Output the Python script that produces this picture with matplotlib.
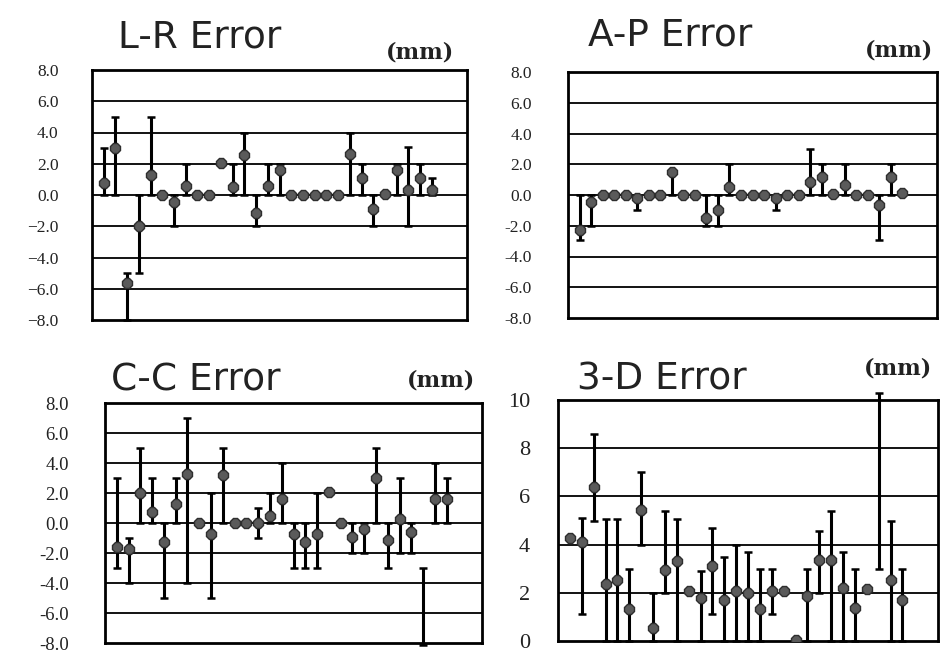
import numpy as np
import matplotlib.pyplot as plt

plt.rcParams["font.family"] = "DejaVu Sans"

N = np.nan
case_no = np.arange(1, 30)

# L-R error (mm): mean with min / max range
lr_mean = [0.8, 3.0, -5.65, -2.0, 1.3, 0.0, -0.43, 0.58, 0.0, 0.0, 2.05, 0.5, 2.56, -1.17, 0.55,
           1.6, 0.0, 0.0, 0.0, 0.0, 0.0, 2.6, 1.07, -0.92, 0.05, 1.6, 0.3, 1.1, 0.3]
lr_min = [0, 0, -8.0, -5.0, 0, N, -2.0, 0, N, N, N, 0, 0, -2.0, 0,
          0, N, N, N, N, N, 0, 0, -2.0, N, 0, -2.0, 0, 0]
lr_max = [3.0, 5.0, -5.0, 0, 5.0, N, 0, 2.0, N, N, N, 2.0, 4.0, 0, 2.0,
          2.0, N, N, N, N, N, 4.0, 2.0, 0, N, 2.0, 3.1, 2.0, 1.07]

# A-P error (mm)
ap_mean = [-2.26, -0.43, 0.0, 0.0, 0.0, -0.2, 0.0, 0.0, 1.5, 0.0, 0.0, -1.5, -1.0, 0.53, 0.0,
           0.0, 0.0, -0.2, 0.0, 0.0, 0.86, 1.18, 0.05, 0.65, 0.0, 0.0, -0.65, 1.14, 0.1]
ap_min = [-2.9, -2.0, N, N, N, -1.0, N, N, 0, N, N, -2.0, -2.0, 0, N,
          N, N, -1.0, N, N, 0, 0, N, 0, N, N, -2.9, 0, N]
ap_max = [0, 0, N, N, N, 0, N, N, 1.6, N, N, 0, 0, 2.0, N,
          N, N, 0, N, N, 3.0, 2.0, N, 2.0, N, N, 0, 2.0, N]

# C-C error (mm)
cc_mean = [-1.6, -1.7, 2.0, 0.75, -1.24, 1.3, 3.25, 0.0, -0.73, 3.2, 0.0, 0.0, 0.0, 0.5, 1.6,
           -0.73, -1.24, -0.73, 2.07, 0.0, -0.95, -0.4, 3.0, -1.1, 0.26, -0.6, N, 1.6, 1.6]
cc_min = [-3.0, -4.0, 0, 0, -5.0, 0, -4.0, N, -5.0, 0, N, N, -1.0, 0, 0,
          -3.0, -3.0, -3.0, N, N, -2.0, -2.0, 0, -3.0, -2.0, -2.0, -8.1, 0, 0]
cc_max = [3.0, -1.0, 5.0, 3.0, 0, 3.0, 7.0, N, 2.0, 5.0, N, N, 1.0, 2.0, 4.0,
          0, 0, 2.0, N, N, 0, 0, 5.0, 0, 3.0, 0, -3.0, 4.0, 3.0]

# 3-D error (mm)
td_mean = [4.28, 4.1, 6.4, 2.37, 2.55, 1.34, 5.42, 0.55, 2.94, 3.31, 2.07, 1.8, 3.1, 1.7, 2.07,
           2.0, 1.34, 2.07, 2.07, 0.04, 1.86, 3.38, 3.38, 2.2, 1.38, 2.17, N, 2.55, 1.72]
td_min = [N, 1.1, 5.0, 0, 0, 0, 4.0, 0, 2.0, 0, N, 0, 1.1, 0, 0,
          0, 0, 1.1, N, N, 0, 2.0, 0, 0, 0, N, 3.0, 0, 0]
td_max = [N, 5.1, 8.6, 5.05, 5.05, 3.0, 7.0, 2.0, 5.4, 5.05, N, 2.9, 4.7, 3.5, 4.0,
          3.7, 3.0, 3.0, N, N, 3.0, 4.55, 5.4, 3.7, 3.0, N, 10.3, 5.0, 3.0]

sym_ticks = [8, 6, 4, 2, 0, -2, -4, -6, -8]
td_ticks = [10, 8, 6, 4, 2, 0]

W, H = 940, 655
fig = plt.figure(figsize=(9.4, 6.55), dpi=100)


def box(x0, y0, x1, y1):
    return [x0 / W, 1 - y1 / H, (x1 - x0) / W, (y1 - y0) / H]


def draw_panel(rect, mean, lo, hi, ticks, labels, lsize, lpad, title, txy, uxy):
    ax = fig.add_axes(rect)
    ax.set_xlim(0, 32)
    ax.set_ylim(min(ticks), max(ticks))
    for t in ticks[1:-1]:
        ax.axhline(t, color="black", lw=1.3, zorder=1)
    ax.vlines(case_no, lo, hi, colors="black", lw=2.2, zorder=2, clip_on=False)
    for end in (lo, hi):
        ax.plot(case_no, end, ls="none", marker="_", ms=6, mew=1.8, color="black",
                zorder=2, clip_on=False)
    ax.plot(case_no, mean, ls="none", marker="8", ms=8.5, mfc="#5a5a5a", mec="#2e2e2e",
            mew=1.0, zorder=3)
    ax.set_xticks([])
    ax.set_yticks(ticks)
    ax.set_yticklabels(labels, fontsize=lsize, family="Liberation Serif", color="#222222")
    ax.tick_params(axis="y", length=0, pad=lpad)
    for s in ax.spines.values():
        s.set_linewidth(2.0)
    fig.text(txy[0] / W, 1 - txy[1] / H, title, fontsize=27, ha="center", va="baseline",
             family="DejaVu Sans", color="#222222")
    fig.text(uxy[0] / W, 1 - uxy[1] / H, "(mm)", fontsize=16, ha="center", va="baseline",
             family="DejaVu Serif", fontweight="bold", color="#222222")
    return ax


lr_labels = [f"{t:.1f}".replace("-", "\u2212") for t in sym_ticks]
ap_labels = [f"{t:.1f}" for t in sym_ticks]
td_labels = [str(t) for t in td_ticks]

draw_panel(box(92, 70, 467, 320), lr_mean, lr_min, lr_max, sym_ticks, lr_labels, 12.5, 24,
           "L-R Error", (200, 47), (420, 58))
draw_panel(box(568, 72, 937, 318), ap_mean, ap_min, ap_max, sym_ticks, ap_labels, 12.5, 26,
           "A-P Error", (670, 45), (899, 57))
draw_panel(box(105, 403, 482, 643), cc_mean, cc_min, cc_max, sym_ticks, ap_labels, 13.5, 26,
           "C-C Error", (196, 391), (441, 386))
draw_panel(box(558, 400, 938, 641), td_mean, td_min, td_max, td_ticks, td_labels, 16, 20,
           "3-D Error", (662, 389), (898, 374))

fig.savefig("out.png", dpi=100)
